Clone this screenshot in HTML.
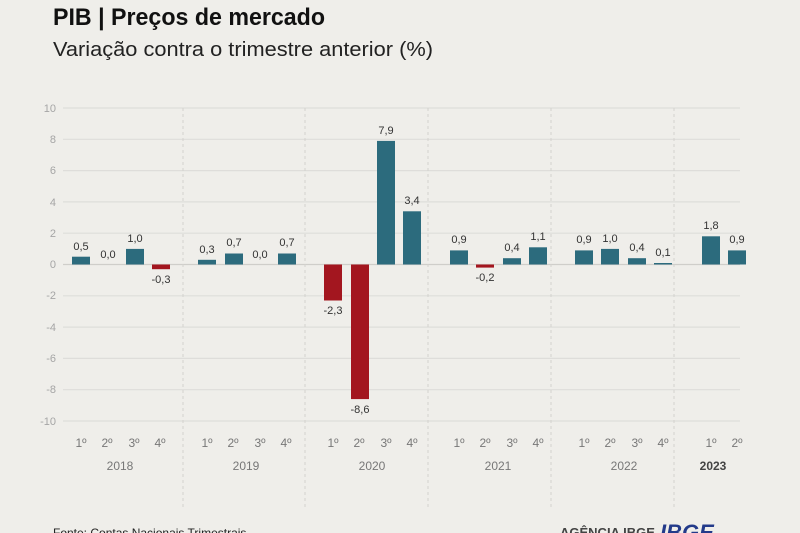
<!DOCTYPE html>
<html><head><meta charset="utf-8"><style>
body{margin:0;background:#efeeea;}
svg{display:block;font-family:"Liberation Sans",sans-serif;}
</style></head><body>
<svg width="800" height="533" viewBox="0 0 800 533">
<rect width="800" height="533" fill="#efeeea"/>
<text x="53" y="25" font-size="24" font-weight="bold" fill="#111" textLength="272" lengthAdjust="spacingAndGlyphs">PIB | Preços de mercado</text>
<text x="53" y="56" font-size="20" fill="#222" textLength="380" lengthAdjust="spacingAndGlyphs">Variação contra o trimestre anterior (%)</text>
<g stroke="#dedddA" stroke-width="1.2">
<line x1="63" y1="108" x2="740" y2="108"/><line x1="63" y1="139.3" x2="740" y2="139.3"/>
<line x1="63" y1="170.6" x2="740" y2="170.6"/><line x1="63" y1="201.9" x2="740" y2="201.9"/>
<line x1="63" y1="233.2" x2="740" y2="233.2"/>
<line x1="63" y1="295.8" x2="740" y2="295.8"/><line x1="63" y1="327.1" x2="740" y2="327.1"/>
<line x1="63" y1="358.4" x2="740" y2="358.4"/><line x1="63" y1="389.7" x2="740" y2="389.7"/>
<line x1="63" y1="421" x2="740" y2="421"/>
</g>
<line x1="63" y1="264.5" x2="740" y2="264.5" stroke="#cfceca" stroke-width="1.2"/>
<g stroke="#d3d2ce" stroke-dasharray="3,3">
<line x1="183" y1="108" x2="183" y2="510"/><line x1="305" y1="108" x2="305" y2="510"/>
<line x1="428" y1="108" x2="428" y2="510"/><line x1="551" y1="108" x2="551" y2="510"/>
<line x1="674" y1="108" x2="674" y2="510"/>
</g>
<g font-size="11" fill="#a5a5a5" text-anchor="end">
<text x="56" y="112">10</text><text x="56" y="143">8</text><text x="56" y="174">6</text><text x="56" y="206">4</text><text x="56" y="237">2</text><text x="56" y="268">0</text><text x="56" y="299">-2</text><text x="56" y="331">-4</text><text x="56" y="362">-6</text><text x="56" y="393">-8</text><text x="56" y="425">-10</text>
</g>
<g fill="#2c6b7d">
<rect x="72" y="256.7" width="18" height="7.8"/>
<rect x="126" y="248.9" width="18" height="15.6"/>
<rect x="198" y="259.8" width="18" height="4.7"/>
<rect x="225" y="253.5" width="18" height="11"/>
<rect x="278" y="253.5" width="18" height="11"/>
<rect x="377" y="140.9" width="18" height="123.6"/>
<rect x="403" y="211.3" width="18" height="53.2"/>
<rect x="450" y="250.4" width="18" height="14.1"/>
<rect x="503" y="258.2" width="18" height="6.3"/>
<rect x="529" y="247.3" width="18" height="17.2"/>
<rect x="575" y="250.4" width="18" height="14.1"/>
<rect x="601" y="248.9" width="18" height="15.6"/>
<rect x="628" y="258.2" width="18" height="6.3"/>
<rect x="654" y="263" width="18" height="1.5"/>
<rect x="702" y="236.3" width="18" height="28.2"/>
<rect x="728" y="250.4" width="18" height="14.1"/>
</g>
<g fill="#a3161f">
<rect x="152" y="264.5" width="18" height="4.7"/>
<rect x="324" y="264.5" width="18" height="36"/>
<rect x="351" y="264.5" width="18" height="134.6"/>
<rect x="476" y="264.5" width="18" height="3.1"/>
</g>
<g font-size="11" fill="#333" text-anchor="middle">
<text x="81" y="250">0,5</text><text x="108" y="258">0,0</text><text x="135" y="242">1,0</text><text x="161" y="283">-0,3</text>
<text x="207" y="253">0,3</text><text x="234" y="246">0,7</text><text x="260" y="258">0,0</text><text x="287" y="246">0,7</text>
<text x="333" y="314">-2,3</text><text x="360" y="413">-8,6</text><text x="386" y="134">7,9</text><text x="412" y="204">3,4</text>
<text x="459" y="243">0,9</text><text x="485" y="281">-0,2</text><text x="512" y="251">0,4</text><text x="538" y="240">1,1</text>
<text x="584" y="243">0,9</text><text x="610" y="242">1,0</text><text x="637" y="251">0,4</text><text x="663" y="256">0,1</text>
<text x="711" y="229">1,8</text><text x="737" y="243">0,9</text>
</g>
<g font-size="12" fill="#777" text-anchor="middle">
<text x="81" y="447">1º</text><text x="107" y="447">2º</text><text x="134" y="447">3º</text><text x="160" y="447">4º</text>
<text x="207" y="447">1º</text><text x="233" y="447">2º</text><text x="260" y="447">3º</text><text x="286" y="447">4º</text>
<text x="333" y="447">1º</text><text x="359" y="447">2º</text><text x="386" y="447">3º</text><text x="412" y="447">4º</text>
<text x="459" y="447">1º</text><text x="485" y="447">2º</text><text x="512" y="447">3º</text><text x="538" y="447">4º</text>
<text x="584" y="447">1º</text><text x="610" y="447">2º</text><text x="637" y="447">3º</text><text x="663" y="447">4º</text>
<text x="711" y="447">1º</text><text x="737" y="447">2º</text>
<text x="120" y="470">2018</text><text x="246" y="470">2019</text><text x="372" y="470">2020</text><text x="498" y="470">2021</text><text x="624" y="470">2022</text><text x="713" y="470" fill="#444" font-weight="bold">2023</text>
</g>
<text x="53" y="537" font-size="12" fill="#222">Fonte: Contas Nacionais Trimestrais</text>
<text x="560" y="537" font-size="13" font-weight="bold" fill="#444">AGÊNCIA IBGE</text>
<text x="660" y="540" font-size="22" font-weight="bold" font-style="italic" fill="#233a8a">IBGE</text>
</svg>
</body></html>
